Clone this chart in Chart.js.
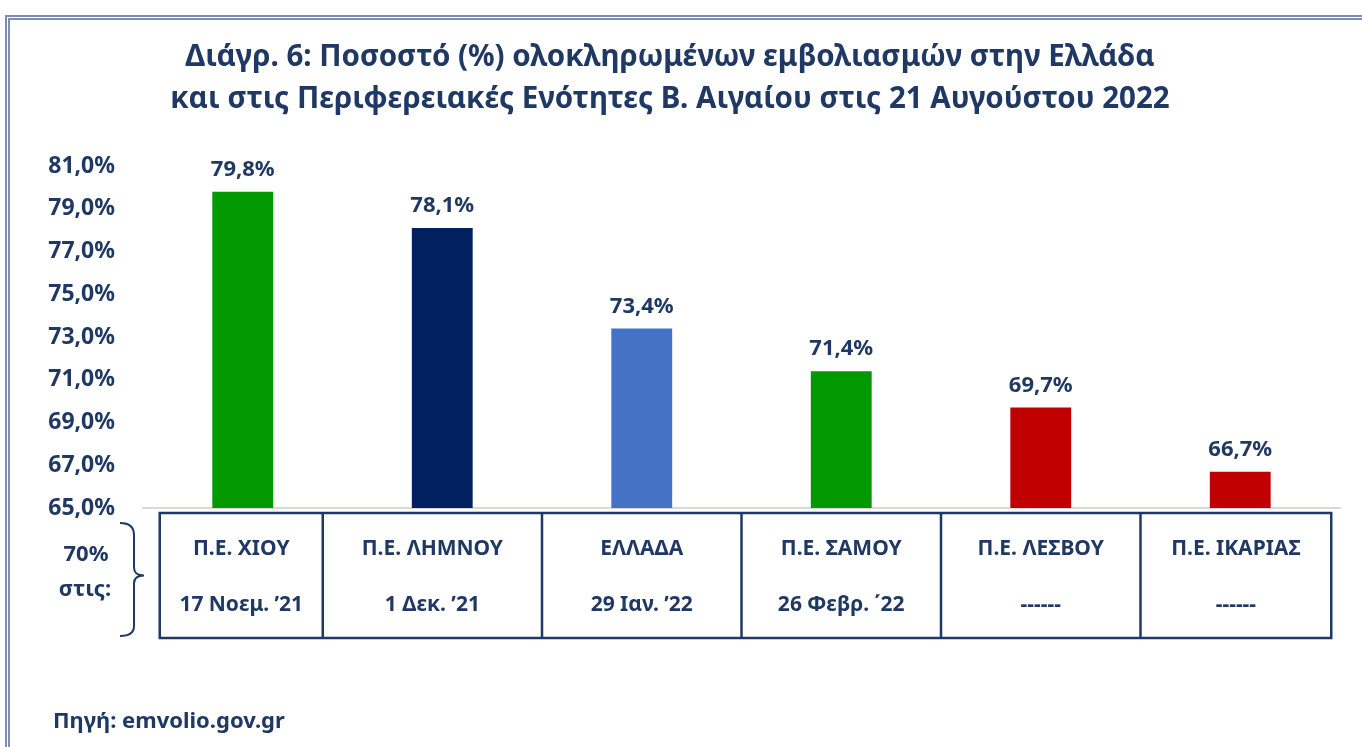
<!DOCTYPE html>
<html>
<head>
<meta charset="utf-8">
<script src="https://cdn.jsdelivr.net/npm/chart.js@4.4.0/dist/chart.umd.min.js"></script>
<style>
  html, body { margin: 0; padding: 0; background: #fff; }
  #wrap { position: relative; width: 1362px; height: 747px; overflow: hidden; }
  #frame { position: absolute; left: 5px; top: 15px; width: 1400px; height: 800px;
           border-top: 5px double #7d8db4; border-left: 5px double #7d8db4; }
  #box { position: absolute; left: 0; top: 0; width: 1362px; height: 747px; }
</style>
</head>
<body>
<div id="wrap">
  <div id="frame"></div>
  <div id="box"><canvas id="myChart"></canvas></div>
</div>
<script>
var labels = ["Π.Ε. ΧΙΟΥ", "Π.Ε. ΛΗΜΝΟΥ", "ΕΛΛΑΔΑ", "Π.Ε. ΣΑΜΟΥ", "Π.Ε. ΛΕΣΒΟΥ", "Π.Ε. ΙΚΑΡΙΑΣ"];
var dates = ["17 Νοεμ. ’21", "1 Δεκ. ’21", "29 Ιαν. ’22", "26 Φεβρ. ΄22", "------", "------"];
var values = [79.8, 78.1, 73.4, 71.4, 69.7, 66.7];
var barColors = ["#009900", "#002060", "#4472c4", "#009900", "#c00000", "#c00000"];

var navy = "#1f3864";
var font = "'Noto Sans', sans-serif";

function pct(v) {
  return v.toFixed(1).replace(".", ",") + "%";
}

// value labels above the bars
var valueLabels = {
  id: "valueLabels",
  afterDatasetsDraw: function(chart) {
    var ctx = chart.ctx;
    var meta = chart.getDatasetMeta(0);
    ctx.save();
    ctx.fillStyle = navy;
    ctx.font = "bold 22px " + font;
    ctx.textAlign = "center";
    ctx.textBaseline = "middle";
    meta.data.forEach(function(bar, i) {
      ctx.fillText(pct(values[i]), bar.x, bar.y - 22);
    });
    ctx.restore();
  }
};

// the table under the axis, the brace and the source line
var tableUnder = {
  id: "tableUnder",
  afterDraw: function(chart) {
    var ctx = chart.ctx;
    var x = chart.scales.x;
    var c = labels.map(function(_, i) { return x.getPixelForValue(i); });
    var n = c.length;
    var edges = [c[0] - 83, c[0] + 80];
    for (var i = 2; i < n; i++) edges.push((c[i - 1] + c[i]) / 2);
    edges.push(c[n - 1] + 91);
    var top = chart.chartArea.bottom + 5, bottom = top + 125;

    ctx.save();
    ctx.strokeStyle = navy;
    ctx.lineWidth = 2.5;
    ctx.strokeRect(edges[0], top, edges[n] - edges[0], bottom - top);
    for (var k = 1; k < n; k++) {
      ctx.beginPath();
      ctx.moveTo(edges[k], top);
      ctx.lineTo(edges[k], bottom);
      ctx.stroke();
    }

    ctx.fillStyle = navy;
    ctx.font = "bold 21px " + font;
    ctx.textAlign = "center";
    ctx.textBaseline = "middle";
    for (var j = 0; j < n; j++) {
      var lx = (edges[j] + edges[j + 1]) / 2;
      ctx.fillText(labels[j], lx, top + 36);
      ctx.fillText(dates[j], lx, top + 92);
    }

    // brace
    var mid = (top + bottom) / 2;
    var bxL = 120, bxR = 134;
    ctx.lineWidth = 2;
    ctx.beginPath();
    ctx.moveTo(bxL, top + 10);
    ctx.quadraticCurveTo(bxR, top + 10, bxR, top + 22);
    ctx.lineTo(bxR, mid - 8);
    ctx.quadraticCurveTo(bxR, mid, bxR + 10, mid);
    ctx.moveTo(bxR + 10, mid);
    ctx.quadraticCurveTo(bxR, mid, bxR, mid + 8);
    ctx.lineTo(bxR, bottom - 12);
    ctx.quadraticCurveTo(bxR, bottom - 2, bxL, bottom - 2);
    ctx.stroke();

    ctx.font = "bold 22px " + font;
    ctx.textAlign = "center";
    ctx.fillText("70%", 86, mid - 21);
    ctx.fillText("στις:", 85, mid + 14);

    ctx.textAlign = "left";
    ctx.fillText("Πηγή: emvolio.gov.gr", 53, 722);
    ctx.restore();
  }
};

new Chart("myChart", {
  type: "bar",
  data: {
    labels: labels,
    datasets: [{
      data: values,
      backgroundColor: barColors,
      barPercentage: 0.305,
      categoryPercentage: 1
    }]
  },
  options: {
    responsive: true,
    maintainAspectRatio: false,
    animation: false,
    layout: { padding: { left: 0, right: 22, top: 0, bottom: 239 } },
    plugins: {
      legend: { display: false },
      tooltip: { enabled: false },
      title: {
        display: true,
        text: ["Διάγρ. 6: Ποσοστό (%) ολοκληρωμένων εμβολιασμών στην Ελλάδα",
               "και στις Περιφερειακές Ενότητες Β. Αιγαίου στις 21 Αυγούστου 2022"],
        color: navy,
        font: { family: font, size: 29.5, weight: "bold", lineHeight: "42px" },
        padding: { top: 37, bottom: 45 }
      }
    },
    scales: {
      x: {
        grid: { display: false, drawTicks: false },
        border: { display: true, color: "#d9d9d9", width: 2 },
        ticks: { display: false }
      },
      y: {
        min: 65,
        max: 81,
        afterFit: function(scale) { scale.width = 143; },
        grid: { display: false, drawTicks: false },
        border: { display: false },
        ticks: {
          stepSize: 2,
          padding: 28,
          color: navy,
          font: { family: font, size: 23, weight: "bold" },
          callback: function(v) { return pct(v); }
        }
      }
    }
  },
  plugins: [valueLabels, tableUnder]
});
</script>
</body>
</html>
